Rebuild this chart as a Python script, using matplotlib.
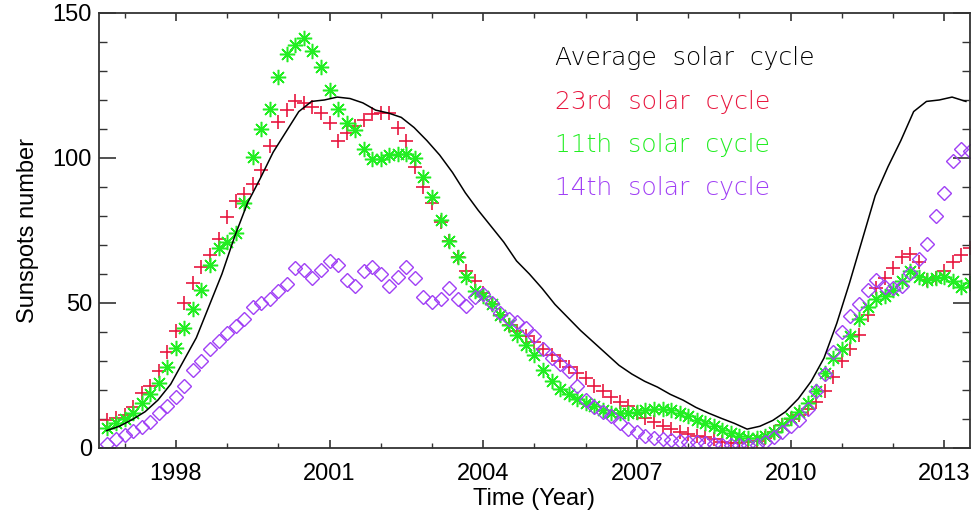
import numpy as np
import matplotlib
matplotlib.use("Agg")
import matplotlib.pyplot as plt
from matplotlib.ticker import MultipleLocator

# --- data (smoothed monthly sunspot numbers, 2-month steps) ---
start_year = 1996 + 8 / 12.0
step = 2 / 12.0

cycle23 = [9.5, 10.5, 11.3, 14, 19, 21.5, 26.5, 33, 40.5, 50, 57, 62.5,
           66.5, 72, 79.5, 85, 87.5, 91, 96, 104, 112.5, 116.5, 119.5, 119,
           117.5, 115.5, 112, 106, 108.5, 111, 113, 115, 115.5, 115.5, 110.5, 106,
           97, 90, 84.5, 78, 71.5, 66, 61, 57.5, 53.5, 49.5, 46, 42.5,
           40.5, 38.5, 36.5, 34, 32, 30, 28, 26, 24, 21.5, 19.5, 17.5,
           16, 14.5, 12, 10.5, 9, 7.5, 6.5, 5.5, 4.8, 4.2, 3.8, 3,
           2.2, 1.8, 1.7, 2, 2.5, 3.5, 5.5, 8, 10, 11.5, 13.5, 16,
           19.5, 24.5, 30, 34, 39, 46, 55, 58.5, 62, 66, 67, 64,
           58, 58.5, 61, 64, 66.5, 69]

cycle11 = [7, 8.5, 10, 12, 15.5, 18.5, 22.5, 28, 34.5, 41.5, 48, 54.5,
           63, 69, 71, 74, 84.5, 100.5, 110, 117, 128, 136, 139, 141.5,
           137, 131.5, 123.5, 117, 112, 109.5, 103, 99.5, 99.5, 101, 101.5, 101.5,
           100, 93.5, 86.5, 78.5, 71.5, 66, 59, 54, 52.5, 49.5, 46, 42.5,
           39, 35.5, 32, 27, 23, 20.5, 18.5, 17, 15.5, 14.5, 13, 12,
           12, 12, 12.5, 13, 13.5, 13.5, 13, 12, 11, 9.7, 8.7, 7.5,
           6.3, 5, 4.2, 3.5, 3.5, 4.2, 5.5, 8, 10.5, 12.5, 15.5, 19.5,
           26, 31, 34, 38.5, 44.5, 48.5, 51.5, 52.5, 54.5, 57.5, 61, 59,
           58, 58.5, 59, 57.5, 55.5, 57]

cycle14 = [1.5, 3, 4.5, 5.8, 7.3, 9, 12, 14.5, 17.5, 21.5, 27, 30,
           34, 37, 39.5, 42, 44.5, 48.5, 50, 51.5, 54, 56.5, 62, 61.5,
           58.5, 61.5, 64.5, 63, 58, 56, 61, 62.5, 60, 56, 59, 62.5,
           58.5, 52, 50.5, 51.5, 55, 51.5, 49, 52, 53, 50, 46.5, 44.5,
           43.5, 41.5, 38.5, 34, 31, 29, 26.5, 21.5, 16.5, 14, 12.5, 11,
           8.5, 6.5, 5.5, 4.3, 3.5, 3, 2.8, 2.5, 2.2, 2, 1.8, 1.5,
           1.2, 1, 1, 1, 1.2, 2, 3.8, 5.5, 7.5, 9.5, 13.5, 19.5,
           25.5, 33, 40, 45.5, 49.5, 54.5, 58, 55.5, 55, 56, 60.5, 65,
           70.5, 80, 88, 99, 103, 102.5]

# average solar cycle (black curve)
avg_years = [1996.65, 1996.9, 1997.15, 1997.4, 1997.65, 1997.9, 1998.15, 1998.4,
             1998.65, 1998.9, 1999.15, 1999.4, 1999.65, 1999.9, 2000.15, 2000.4,
             2000.65, 2000.9, 2001.15, 2001.4, 2001.65, 2001.9, 2002.15, 2002.4,
             2002.65, 2002.9, 2003.15, 2003.4, 2003.65, 2003.9, 2004.15, 2004.4,
             2004.65, 2004.9, 2005.15, 2005.4, 2005.65, 2005.9, 2006.15, 2006.4,
             2006.65, 2006.9, 2007.15, 2007.4, 2007.65, 2007.9, 2008.15, 2008.4,
             2008.65, 2008.9, 2009.15, 2009.4, 2009.65, 2009.9, 2010.15, 2010.4,
             2010.65, 2010.9, 2011.15, 2011.4, 2011.65, 2011.9, 2012.15, 2012.4,
             2012.65, 2012.9, 2013.15, 2013.42]
avg_cycle = [6, 7.5, 9.8, 12.5, 16.5, 22, 30, 38,
             49, 60, 73, 84.5, 93, 102, 109, 116,
             119.5, 120, 121, 120.5, 119, 116.5, 115.5, 114,
             110.5, 106, 101, 95, 88, 82, 76.5, 71,
             64.5, 60, 55, 49.5, 45, 40.5, 36.5, 32.5,
             28.5, 25.5, 23, 21, 18.5, 16.5, 14, 12,
             10.2, 8.5, 6.5, 7.5, 9.5, 12.5, 17, 23,
             31, 43, 57, 72, 87, 97, 106, 116,
             119.5, 120, 121, 119.5]

labels = ["Average  solar  cycle", "23rd  solar  cycle", "11th  solar  cycle", "14th  solar  cycle"]
colors = ["black", "#e8173f", "#22ee22", "#a03ff5"]

t = start_year + step * np.arange(len(cycle23))

plt.rcParams['font.family'] = ['Liberation Sans', 'DejaVu Sans']

fig = plt.figure(figsize=(9.74, 5.17), dpi=100)
ax = fig.add_axes([0.1016, 0.1335, 0.8943, 0.8414])

ax.plot(t, cycle23, ls='none', marker='+', ms=9.5, mew=1.2, color=colors[1])
ax.plot(t, cycle11, ls='none', marker=(8, 2, 0), ms=11, mew=1.1, color=colors[2])
ax.plot(t, cycle14, ls='none', marker='D', ms=7.5, mew=1.0, mfc='none', color=colors[3])
ax.plot(avg_years, avg_cycle, color=colors[0], lw=1.1, zorder=5)

ax.set_xlim(1996.5, 2013.5)
ax.set_ylim(0, 150)
ax.xaxis.set_major_locator(MultipleLocator(3))
ax.xaxis.set_minor_locator(MultipleLocator(1))
ax.yaxis.set_major_locator(MultipleLocator(50))
ax.yaxis.set_minor_locator(MultipleLocator(10))
ax.tick_params(axis='both', which='both', direction='in', top=True, right=True,
               labelsize=17, color='#333333')
ax.tick_params(axis='x', which='major', length=6, width=1.2, pad=11)
ax.tick_params(axis='x', which='minor', length=3.5, width=1.0)
ax.tick_params(axis='y', which='major', length=12, width=1.2, pad=5)
ax.tick_params(axis='y', which='minor', length=6, width=1.0)
for s in ax.spines.values():
    s.set_linewidth(1.3)
    s.set_color('#333333')

ax.set_xlabel("Time (Year)", fontsize=17, labelpad=2)
ax.set_ylabel("Sunspots number", fontsize=17, labelpad=10)

ty = [0.897, 0.795, 0.697, 0.598]
for lab, c, y in zip(labels, colors, ty):
    ax.text(0.5235, y, lab, transform=ax.transAxes, color=c, fontsize=18,
            family=['DejaVu Sans'], fontweight='light', va='center', ha='left')

fig.savefig("out.png", dpi=100)
